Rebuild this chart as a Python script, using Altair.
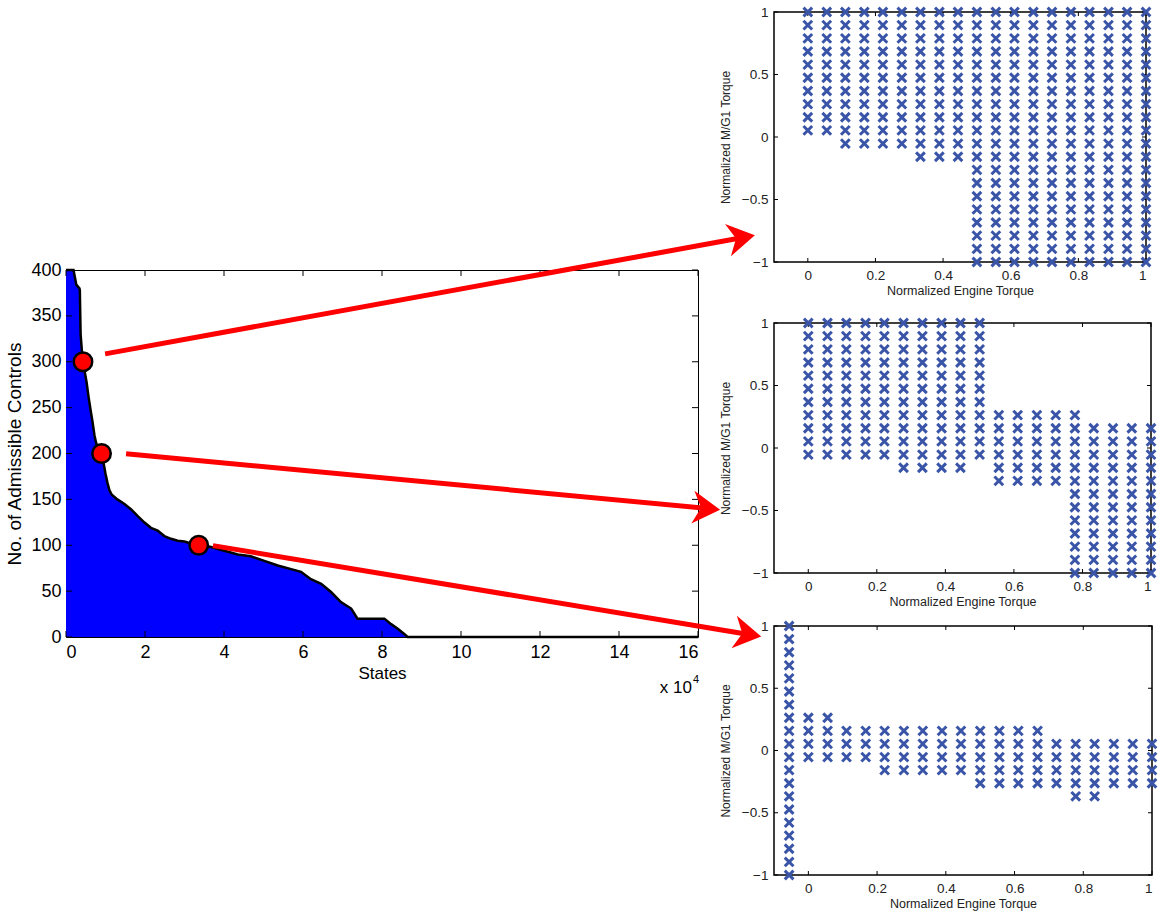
import altair as alt
import pandas as pd

# ---------------- main chart data ----------------
states = [0, 1900, 2300, 2600, 3400, 3500, 3700, 4200, 4700, 5200, 5700, 6200, 6700,
          7200, 7600, 8000, 8600, 9000, 9500, 10000, 10500, 11000, 11600, 13000,
          14800, 16500, 18100, 19800, 21500, 23200, 24900, 26600, 28300, 30000,
          31600, 33300, 36700, 40100, 43500, 46800, 50200, 53600, 57000, 59500,
          62000, 64600, 67100, 69600, 72200, 73800, 80600, 82300, 84000, 85700,
          86500, 160000]
controls = [400, 400, 391, 384, 380, 378, 330, 302, 290, 278, 262, 248, 235,
            220, 212, 207, 203, 198, 190, 178, 168, 160, 155, 150,
            145, 139, 132, 125, 119, 116, 110, 107, 105, 104,
            102, 101, 98, 94, 90, 88, 83, 78, 74, 71,
            63, 58, 49, 38, 31, 20, 20, 14, 9, 3,
            0, 0]

marker_states = [4300, 9000, 33600]
marker_controls = [300, 200, 100]

arrow_ids = [1, 2, 3]
arrow_start_states = [9900, 15200, 37200]
arrow_start_controls = [308.6, 199.7, 99.6]
arrow_shaft_end_states = [171400, 161800, 172100]
arrow_shaft_end_controls = [435.4, 140.4, 3.3]
arrow_tip_states = [174400, 165600, 176000]
arrow_tip_controls = [438.0, 138.8, 0.5]
arrow_angles = [349.6, 5.4, 9.4]

main_x_ticks = [0, 20000, 40000, 60000, 80000, 100000, 120000, 140000, 160000]
main_y_ticks = [0, 50, 100, 150, 200, 250, 300, 350, 400]

# ---------------- admissible control grid ----------------
engine_levels = [-0.056, 0.0, 0.056, 0.111, 0.167, 0.222, 0.278, 0.333, 0.389, 0.444,
                 0.5, 0.556, 0.611, 0.667, 0.722, 0.778, 0.833, 0.889, 0.944, 1.0]
mg1_levels = [1.0, 0.895, 0.789, 0.684, 0.579, 0.474, 0.368, 0.263, 0.158, 0.053,
              -0.053, -0.158, -0.263, -0.368, -0.474, -0.579, -0.684, -0.789, -0.895, -1.0]

# panel 1 (state at 300 admissible controls)
p1_cols = engine_levels[1:]
p1_top = [1.0] * 19
p1_bottom = [0.053, 0.053, -0.053, -0.053, -0.053, -0.053, -0.158, -0.158, -0.158,
             -1.0, -1.0, -1.0, -1.0, -1.0, -1.0, -1.0, -1.0, -1.0, -1.0]
# panel 2 (200 admissible controls)
p2_cols = engine_levels[1:]
p2_top = [1.0, 1.0, 1.0, 1.0, 1.0, 1.0, 1.0, 1.0, 1.0, 1.0,
          0.263, 0.263, 0.263, 0.263, 0.263, 0.158, 0.158, 0.158, 0.158]
p2_bottom = [-0.053, -0.053, -0.053, -0.053, -0.053, -0.158, -0.158, -0.158, -0.158,
             -0.053, -0.263, -0.263, -0.263, -0.263, -1.0, -1.0, -1.0, -1.0, -1.0]
# panel 3 (100 admissible controls)
p3_cols = engine_levels
p3_top = [1.0, 0.263, 0.263, 0.158, 0.158, 0.158, 0.158, 0.158, 0.158, 0.158,
          0.158, 0.158, 0.158, 0.158, 0.053, 0.053, 0.053, 0.053, 0.053, 0.053]
p3_bottom = [-1.0, -0.053, -0.053, -0.053, -0.053, -0.158, -0.158, -0.158, -0.158, -0.158,
             -0.263, -0.263, -0.263, -0.263, -0.263, -0.368, -0.368, -0.263, -0.263, -0.263]

panel_x_ticks = [0, 0.2, 0.4, 0.6, 0.8, 1]
panel_y_ticks = [-1, -0.5, 0, 0.5, 1]

# ---------------- styling ----------------
MAIN_FONT = "Liberation Sans"
PANEL_FONT = "Liberation Sans"
XMARK = "M-1,-1L1,1M-1,1L1,-1"
ARROWHEAD = "M0,0L-1,-0.6L-0.7,0L-1,0.6Z"
BLUE_X = "#3a55a8"

MW, MH = 632, 367

# ---------------- main chart ----------------
curve_df = pd.DataFrame({"s": states, "c": controls})
marker_df = pd.DataFrame({"s": marker_states, "c": marker_controls})
shaft_df = pd.DataFrame({
    "id": arrow_ids + arrow_ids,
    "s": arrow_start_states + arrow_shaft_end_states,
    "c": arrow_start_controls + arrow_shaft_end_controls,
})
head_df = pd.DataFrame({"s": arrow_tip_states, "c": arrow_tip_controls, "ang": arrow_angles})
mxt_df = pd.DataFrame({"s": main_x_ticks})
myt_df = pd.DataFrame({"c": main_y_ticks})

MX = alt.X("s:Q", scale=alt.Scale(domain=[0, 160000], nice=False, zero=False),
           axis=alt.Axis(values=main_x_ticks, labelExpr="datum.value / 10000",
                         title="States", ticks=False, domain=False, grid=False,
                         labelFont=MAIN_FONT, labelFontSize=18, labelColor="black",
                         labelPadding=6, titleFont=MAIN_FONT, titleFontSize=17,
                         titleFontWeight="normal", titleColor="black", titlePadding=4))
MY = alt.Y("c:Q", scale=alt.Scale(domain=[0, 400], nice=False),
           axis=alt.Axis(values=main_y_ticks, title="No. of Admissible Controls",
                         ticks=False, domain=False, grid=False,
                         labelFont=MAIN_FONT, labelFontSize=18, labelColor="black",
                         labelPadding=5, titleFont=MAIN_FONT, titleFontSize=19,
                         titleFontWeight="normal", titleColor="black", titlePadding=6))

area = alt.Chart(curve_df).mark_area(color="#0000ff", opacity=1).encode(x=MX, y=MY)
outline = alt.Chart(curve_df).mark_line(color="black", strokeWidth=2.5).encode(x=MX, y=MY)

tick_b = alt.Chart(mxt_df).mark_rule(color="black", strokeWidth=1).encode(
    x=MX, y=alt.value(MH), y2=alt.value(MH - 6))
tick_t = alt.Chart(mxt_df).mark_rule(color="black", strokeWidth=1).encode(
    x=MX, y=alt.value(0), y2=alt.value(6))
tick_l = alt.Chart(myt_df).mark_rule(color="black", strokeWidth=1).encode(
    y=MY, x=alt.value(0), x2=alt.value(6))
tick_r = alt.Chart(myt_df).mark_rule(color="black", strokeWidth=1).encode(
    y=MY, x=alt.value(MW), x2=alt.value(MW - 6))

shafts = alt.Chart(shaft_df).mark_line(color="#ff0000", strokeWidth=5, clip=False).encode(
    x=MX, y=MY, detail="id:N")
heads = alt.Chart(head_df).mark_point(shape=ARROWHEAD, filled=True, color="#ff0000",
                                      opacity=1, size=3000, clip=False).encode(
    x=MX, y=MY, angle=alt.Angle("ang:Q", scale=None))
circles = alt.Chart(marker_df).mark_point(shape="circle", filled=True, fill="#ff0000",
                                          stroke="black", strokeWidth=2.5, size=340,
                                          opacity=1, fillOpacity=1, strokeOpacity=1).encode(
    x=MX, y=MY)

exp_base = alt.Chart(pd.DataFrame({"t": ["x 10"]})).mark_text(
    align="right", baseline="middle", font=MAIN_FONT, fontSize=17, color="black",
    dx=-6, dy=51).encode(x=alt.datum(160000), y=alt.datum(0), text="t:N")
exp_pow = alt.Chart(pd.DataFrame({"t": ["4"]})).mark_text(
    align="left", baseline="middle", font=MAIN_FONT, fontSize=11, color="black",
    dx=-5, dy=43).encode(x=alt.datum(160000), y=alt.datum(0), text="t:N")

main = alt.layer(area, outline, tick_b, tick_t, tick_l, tick_r, shafts, circles, heads,
                 exp_base, exp_pow).properties(
    width=MW, height=MH, view=alt.ViewBackground(stroke="black", strokeWidth=1))

spacer = alt.Chart(pd.DataFrame({"z": [0]})).mark_point(opacity=0).encode(
    x=alt.value(10), y=alt.value(100)).properties(
    width=MW, height=210, view=alt.ViewBackground(stroke="transparent"))


# ---------------- panels ----------------
def grid_points(cols, tops, bottoms):
    rows = []
    for e, t, b in zip(cols, tops, bottoms):
        for m in mg1_levels:
            if b - 1e-6 <= m <= t + 1e-6:
                rows.append({"e": e, "m": m})
    return pd.DataFrame(rows)


def panel(cols, tops, bottoms, w, h):
    px = alt.X("e:Q", scale=alt.Scale(domain=[-0.1, 1], nice=False, zero=False),
               axis=alt.Axis(values=panel_x_ticks, format="~g", title="Normalized Engine Torque",
                             ticks=False, domain=False, grid=False,
                             labelFont=PANEL_FONT, labelFontSize=13.5, labelColor="#222",
                             labelPadding=6, titleFont=PANEL_FONT, titleFontSize=12.5,
                             titleFontWeight="normal", titleColor="#222", titlePadding=3))
    py = alt.Y("m:Q", scale=alt.Scale(domain=[-1, 1], nice=False, zero=False),
               axis=alt.Axis(values=panel_y_ticks, format="~g", title="Normalized M/G1 Torque",
                             ticks=False, domain=False, grid=False,
                             labelFont=PANEL_FONT, labelFontSize=13.5, labelColor="#222",
                             labelPadding=6, titleFont=PANEL_FONT, titleFontSize=12,
                             titleFontWeight="normal", titleColor="#222", titlePadding=9))
    xt = pd.DataFrame({"e": panel_x_ticks})
    yt = pd.DataFrame({"m": panel_y_ticks})
    pts = alt.Chart(grid_points(cols, tops, bottoms)).mark_point(
        shape=XMARK, filled=False, stroke=BLUE_X, strokeWidth=3, size=76, opacity=1,
        clip=False).encode(x=px, y=py)
    tb = alt.Chart(xt).mark_rule(color="black").encode(x=px, y=alt.value(h), y2=alt.value(h - 4))
    tt = alt.Chart(xt).mark_rule(color="black").encode(x=px, y=alt.value(0), y2=alt.value(4))
    tl = alt.Chart(yt).mark_rule(color="black").encode(y=py, x=alt.value(0), x2=alt.value(4))
    tr = alt.Chart(yt).mark_rule(color="black").encode(y=py, x=alt.value(w), x2=alt.value(w - 4))
    return alt.layer(tb, tt, tl, tr, pts).properties(
        width=w, height=h, view=alt.ViewBackground(stroke="black", strokeWidth=1.5))


p1 = panel(p1_cols, p1_top, p1_bottom, 372, 250)
p2 = panel(p2_cols, p2_top, p2_bottom, 377, 250)
p3 = panel(p3_cols, p3_top, p3_bottom, 378, 249)

left = alt.vconcat(spacer, main, spacing=0)
right = alt.vconcat(alt.vconcat(p1, p2, spacing=13), p3, spacing=5)

chart = alt.hconcat(left, right, spacing=-44).properties(
    padding={"left": 5, "top": 0, "right": 0, "bottom": 0}
).configure(background="white").configure_view(stroke="transparent")

chart.save("out.html", embed_options={"renderer": "svg", "actions": False})
